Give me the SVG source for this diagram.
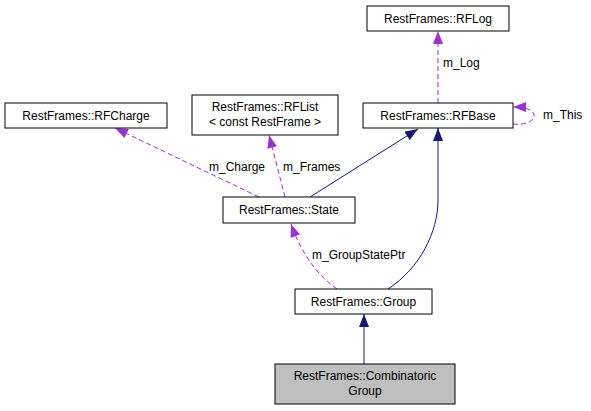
<svg xmlns="http://www.w3.org/2000/svg" width="591" height="411" viewBox="0 0 591 411">
<style>
  text { font-family: "Liberation Sans", Arial, sans-serif; font-size: 12px; fill: #000; }
  .node rect { fill: #fff; stroke: #000; stroke-width: 1; }
  .node.hl rect { fill: #bfbfbf; }
  .lbl { text-anchor: middle; }
  .inh { fill: none; stroke: #191970; stroke-width: 1; }
  .use { fill: none; stroke: #9a32cd; stroke-width: 1; stroke-dasharray: 5,3; }
</style>
<defs>
  <marker id="aInh" markerUnits="userSpaceOnUse" markerWidth="13" markerHeight="10" refX="13" refY="5" orient="auto" viewBox="0 0 13 10">
    <path d="M0,0 L13,5 L0,10 z" fill="#191970"/>
  </marker>
  <marker id="aUse" markerUnits="userSpaceOnUse" markerWidth="13" markerHeight="10" refX="13" refY="5" orient="auto" viewBox="0 0 13 10">
    <path d="M0,0 L13,5 L0,10 z" fill="#9a32cd"/>
  </marker>
</defs>
<rect width="591" height="411" fill="#fff"/>
<g id="edges">
  <path class="inh" d="M364,364 L364,314" marker-end="url(#aInh)"/>
  <path class="inh" d="M388,289 C420,268 438,232 438,200 L438,128" marker-end="url(#aInh)"/>
  <path class="inh" d="M310,197 L418,129" marker-end="url(#aInh)"/>
  <path class="use" d="M438,103 L438,31" marker-end="url(#aUse)"/>
  <path class="use" d="M513,124 C537,127 545,107 513,107" marker-end="url(#aUse)"/>
  <path class="use" d="M259,197 L115,128" marker-end="url(#aUse)"/>
  <path class="use" d="M285,197 L269,135" marker-end="url(#aUse)"/>
  <path class="use" d="M337,289 C320,277 303,258 291,224" marker-end="url(#aUse)"/>
  <text x="443" y="67">m_Log</text>
  <text x="543" y="119">m_This</text>
  <text x="209" y="171">m_Charge</text>
  <text x="283" y="171">m_Frames</text>
  <text x="312" y="259">m_GroupStatePtr</text>
</g>
<g id="RFLog" class="node"><rect x="367" y="6" width="142" height="25"/><text class="lbl" x="438" y="22.5">RestFrames::RFLog</text></g>
<g id="RFBase" class="node"><rect x="363" y="103" width="150" height="25"/><text class="lbl" x="438" y="119.5">RestFrames::RFBase</text></g>
<g id="RFCharge" class="node"><rect x="5" y="103" width="162" height="25"/><text class="lbl" x="86" y="119.5">RestFrames::RFCharge</text></g>
<g id="RFList" class="node"><rect x="192" y="95" width="146" height="40"/><text class="lbl" x="265" y="111">RestFrames::RFList</text><text class="lbl" x="265" y="126">&lt; const RestFrame &gt;</text></g>
<g id="State" class="node"><rect x="223" y="197" width="132" height="26"/><text class="lbl" x="289" y="214">RestFrames::State</text></g>
<g id="Group" class="node"><rect x="295" y="289" width="137" height="25"/><text class="lbl" x="363.5" y="305.5">RestFrames::Group</text></g>
<g id="CombinatoricGroup" class="node hl"><rect x="275" y="364" width="180" height="40"/><text class="lbl" x="365" y="380">RestFrames::Combinatoric</text><text class="lbl" x="365" y="395">Group</text></g>
</svg>
